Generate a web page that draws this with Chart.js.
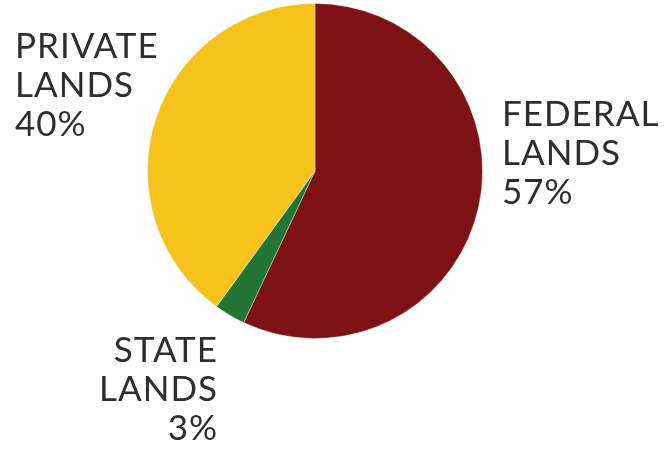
<!DOCTYPE html>
<html>
<head>
<meta charset="utf-8">
<script src="https://cdn.jsdelivr.net/npm/chart.js@4"></script>
<style>
  html, body { margin: 0; padding: 0; background: #fff; }
  #wrap { width: 668px; height: 472px; }
</style>
</head>
<body>
<div id="wrap"><canvas id="landChart"></canvas></div>
<script>
// ─── Data ─────────────────────────────────────────────────────────
const CATEGORIES = ['FEDERAL LANDS', 'STATE LANDS', 'PRIVATE LANDS'];
const SHARES     = [57, 3, 40];
const SLICE_COLORS = ['#7c1214', '#237534', '#f5c31c'];

// label text block per slice: lines, anchor point, alignment
const LABEL_SPOTS = [
    { x: 502, y: 126, align: 'left'  },
    { x: 218, y: 362, align: 'right' },
    { x: 15,  y: 58,  align: 'left'  }
];

const LINE_H = 39;

// draws the three-line labels next to the pie
const sliceLabels = {
    id: 'sliceLabels',
    afterDraw(chart) {
        const ctx = chart.ctx;
        ctx.save();
        ctx.fillStyle = '#2e2e2e';
        ctx.font = "35px 'Lato', sans-serif";
        ctx.letterSpacing = '1px';
        ctx.textBaseline = 'alphabetic';
        CATEGORIES.forEach((name, i) => {
            const spot  = LABEL_SPOTS[i];
            const words = name.split(' ');
            const lines = [words[0], words[1], SHARES[i] + '%'];
            ctx.textAlign = spot.align;
            lines.forEach((ln, k) => ctx.fillText(ln, spot.x, spot.y + k * LINE_H));
        });
        ctx.restore();
    }
};

new Chart(document.getElementById('landChart'), {
    type: 'pie',
    data: {
        labels: CATEGORIES,
        datasets: [{
            data: SHARES,
            backgroundColor: SLICE_COLORS,
            borderWidth: 1,
            borderColor: 'rgba(255,255,255,0.35)'
        }]
    },
    options: {
        responsive: true,
        maintainAspectRatio: false,
        animation: false,
        layout: { padding: { left: 147, right: 185, top: 3, bottom: 133 } },
        plugins: {
            legend: { display: false },
            tooltip: { enabled: false }
        }
    },
    plugins: [sliceLabels]
});
</script>
</body>
</html>
